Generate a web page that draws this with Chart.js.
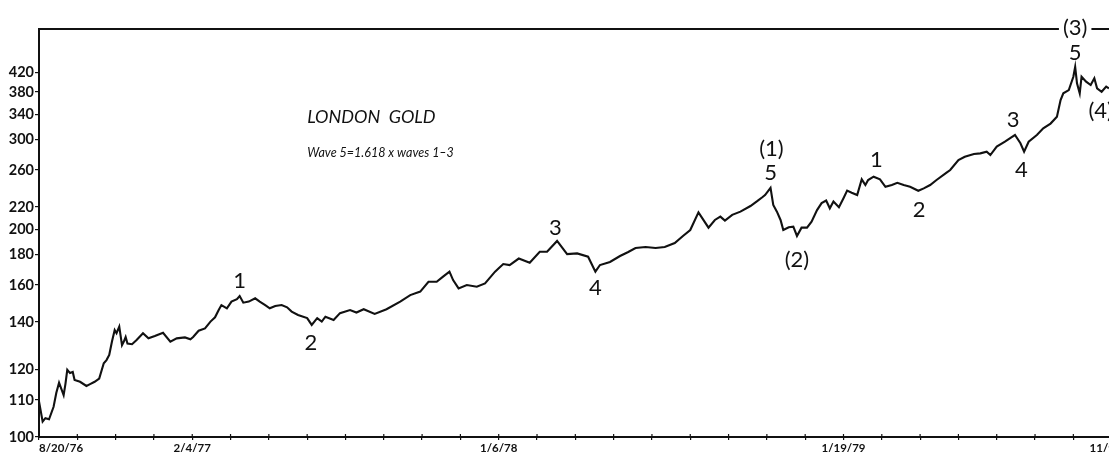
<!DOCTYPE html>
<html>
<head>
<meta charset="utf-8">
<script src="https://cdn.jsdelivr.net/npm/chart.js@4"></script>
<style>
  html, body { margin: 0; padding: 0; background: #fff; overflow: hidden; }
  canvas { display: block; }
</style>
</head>
<body>
<canvas id="goldChart" width="1160" height="455"></canvas>
<script>

// price axis of the original is logarithmic in (price - 60)
const SHIFT = 60;

// days since 8/20/76, London gold price ($/oz)
const days = [0, 4, 7, 11, 16, 19, 22, 27, 29, 31, 34, 37, 39, 45, 52, 56, 61, 66, 71, 74, 77, 80, 83, 85, 88, 91, 93, 95, 97, 102,
  107, 114, 120, 127, 136, 144, 151, 160, 166, 169, 175, 182, 188, 193, 197, 200, 206, 211, 217, 220, 224, 230, 237, 242, 248, 253, 259, 266, 272, 277,
  284, 294, 299, 305, 310, 314, 323, 330, 341, 348, 356, 368, 381, 396, 407, 418, 427, 436, 443, 450, 454, 460, 469, 480, 489, 500, 504, 509, 516, 526,
  538, 549, 557, 568, 579, 590, 602, 610, 615, 626, 637, 646, 654, 665, 676, 686, 697, 706, 714, 723, 734, 741, 747, 752, 760, 769, 780, 787, 793, 796,
  802, 805, 809, 813, 816, 822, 827, 831, 836, 842, 847, 853, 858, 863, 867, 871, 877, 882, 886, 891, 897, 902, 906, 909, 915, 922, 928, 935, 941, 948,
  955, 964, 970, 977, 984, 995, 999, 1008, 1015, 1025, 1032, 1039, 1043, 1050, 1059, 1066, 1070, 1076, 1080, 1085, 1094, 1101, 1109, 1116, 1120, 1123, 1129, 1134, 1136, 1138,
  1141, 1143, 1148, 1153, 1157, 1160, 1165, 1170, 1173];
const prices = [109.6, 103.9, 104.8, 104.5, 108.0, 112.2, 115.5, 111.5, 115.1, 120.0, 118.8, 119.2, 116.4, 115.8, 114.4, 115.0, 115.8, 116.9, 122.4, 123.6, 125.6, 131.1, 136.2, 134.8, 137.8, 129.6, 131.1, 133.1, 130.3, 130.0,
  131.8, 134.8, 132.5, 133.5, 135.0, 131.1, 132.5, 132.9, 132.1, 133.1, 135.9, 137.0, 140.2, 142.3, 146.0, 148.6, 146.9, 150.5, 151.8, 153.6, 149.9, 150.5, 152.3, 150.5, 148.6, 146.9, 148.1, 148.6, 147.4, 145.2,
  143.5, 141.9, 138.6, 141.9, 140.2, 142.6, 141.0, 144.4, 146.0, 144.7, 146.4, 144.0, 146.4, 150.5, 154.1, 156.1, 162.0, 162.0, 165.2, 168.4, 163.0, 158.0, 160.0, 159.0, 161.0, 168.4, 170.6, 173.5, 172.8, 177.3,
  174.4, 182.2, 182.2, 190.4, 180.5, 181.0, 178.6, 168.4, 172.8, 174.9, 179.1, 182.0, 185.0, 185.7, 185.0, 185.7, 188.8, 194.4, 199.3, 215.0, 201.3, 208.0, 211.0, 207.4, 212.6, 215.6, 221.0, 225.5, 229.7, 232.0,
  239.7, 222.0, 215.6, 208.0, 199.3, 201.6, 202.2, 194.4, 201.3, 201.3, 206.5, 217.1, 223.8, 226.4, 218.8, 225.5, 219.8, 228.7, 236.6, 234.4, 232.0, 249.1, 242.7, 248.3, 252.1, 249.1, 240.8, 242.7, 245.2, 242.7,
  240.8, 236.5, 239.0, 242.7, 248.3, 256.8, 260.0, 272.4, 276.6, 280.2, 281.1, 283.3, 278.9, 290.3, 297.2, 303.6, 307.0, 295.0, 283.3, 297.2, 307.0, 317.2, 324.6, 335.6, 365.0, 377.6, 383.9, 411.0, 432.5, 397.3,
  377.6, 411.0, 400.6, 393.9, 407.6, 387.3, 380.6, 390.7, 387.3];

// axis ticks
const priceTicks = [100, 110, 120, 140, 160, 180, 200, 220, 260, 300, 340, 380, 420];
const tickDays = [0, 42, 84, 126, 168, 210, 252, 294, 336, 378, 420, 462, 504, 546, 588, 630, 672, 714, 756, 798, 840, 882, 924, 966, 1008, 1050, 1092, 1134, 1176, 1218];
const labelDays = [0, 168, 504, 882, 1176];
const labelTexts = ['8/20/76', '2/4/77', '1/6/78', '1/19/79', '11/9/79'];

// Elliott wave counts
const waveTexts = ['1', '2', '3', '4', '(1)', '5', '(2)', '1', '2', '3', '4', '(3)', '5', '(4)'];
const waveDays = [220, 298, 566, 610, 803, 802, 831, 918, 965, 1068, 1077, 1136, 1136, 1164];
const wavePrices = [162.5, 130.4, 201, 158.2, 287, 257, 176, 273, 217.5, 331, 260, 530, 466, 346];

const titleText = 'LONDON  GOLD';
const noteText = 'Wave 5=1.618 x waves 1\u20133';

const annotate = {
  id: 'annotate',
  afterDraw(chart) {
    const ctx = chart.ctx;
    const area = chart.chartArea;
    const x = chart.scales.x;
    const y = chart.scales.y;
    ctx.save();

    // top frame line
    ctx.strokeStyle = '#111';
    ctx.lineWidth = 2;
    ctx.beginPath();
    ctx.moveTo(area.left, area.top);
    ctx.lineTo(area.right, area.top);
    ctx.stroke();

    // tick marks cross the date axis
    ctx.lineWidth = 1.2;
    tickDays.forEach(d => {
      const px = x.getPixelForValue(d);
      ctx.beginPath();
      ctx.moveTo(px, area.bottom - 3);
      ctx.lineTo(px, area.bottom);
      ctx.stroke();
    });

    // title
    ctx.fillStyle = '#111';
    ctx.textBaseline = 'middle';
    ctx.textAlign = 'left';
    ctx.font = 'italic 18px Lato';
    ctx.fillText(titleText, x.getPixelForValue(294), y.getPixelForValue(335 - SHIFT));
    ctx.font = 'italic 12.5px Lato';
    ctx.fillText(noteText, x.getPixelForValue(294), y.getPixelForValue(282 - SHIFT));

    // wave labels
    ctx.textAlign = 'center';
    ctx.font = '22px Lato';
    waveTexts.forEach((t, i) => {
      const px = x.getPixelForValue(waveDays[i]);
      const py = y.getPixelForValue(wavePrices[i] - SHIFT);
      if (t === '(3)') {
        const w = ctx.measureText(t).width + 8;
        ctx.fillStyle = '#fff';
        ctx.fillRect(px - w / 2, py - 3, w, 6);
        ctx.fillStyle = '#111';
      }
      ctx.fillText(t, px, py);
    });
    ctx.restore();
  }
};

new Chart(document.getElementById('goldChart'), {
  type: 'line',
  data: {
    datasets: [{
      label: 'London Gold',
      data: days.map((d, i) => ({ x: d, y: prices[i] - SHIFT })),
      borderColor: '#111',
      borderWidth: 2.1,
      pointRadius: 0,
      tension: 0,
      fill: false
    }]
  },
  options: {
    responsive: false,
    animation: false,
    layout: { padding: { top: 29, left: 0, right: 0, bottom: 0 } },
    plugins: {
      legend: { display: false },
      tooltip: { enabled: false }
    },
    scales: {
      x: {
        type: 'linear',
        min: 0,
        max: 1229,
        afterBuildTicks: (axis) => { axis.ticks = tickDays.map(v => ({ value: v })); },
        afterFit: (axis) => { axis.height = 18; },
        grid: { drawOnChartArea: false, drawTicks: true, tickLength: 3, color: '#111', lineWidth: 1.2 },
        border: { display: true, color: '#111', width: 2 },
        ticks: {
          autoSkip: false,
          maxRotation: 0,
          align: 'inner',
          padding: 1,
          color: '#111',
          font: { family: 'Lato', size: 11.5, weight: 'bold' },
          callback: (v) => {
            const k = labelDays.indexOf(v);
            return k >= 0 ? labelTexts[k] : '';
          }
        }
      },
      y: {
        type: 'logarithmic',
        min: 100 - SHIFT,
        max: 528 - SHIFT,
        afterBuildTicks: (axis) => { axis.ticks = priceTicks.map(p => ({ value: p - SHIFT })); },
        afterFit: (axis) => { axis.width = 39; },
        grid: { drawOnChartArea: false, drawTicks: true, tickLength: 4, color: '#111', lineWidth: 1.2 },
        border: { display: true, color: '#111', width: 2 },
        ticks: {
          autoSkip: false,
          padding: 1,
          color: '#111',
          font: { family: 'Lato', size: 14.5, weight: 'bold' },
          callback: (v) => v + SHIFT
        }
      }
    }
  },
  plugins: [annotate]
});
</script>
</body>
</html>
